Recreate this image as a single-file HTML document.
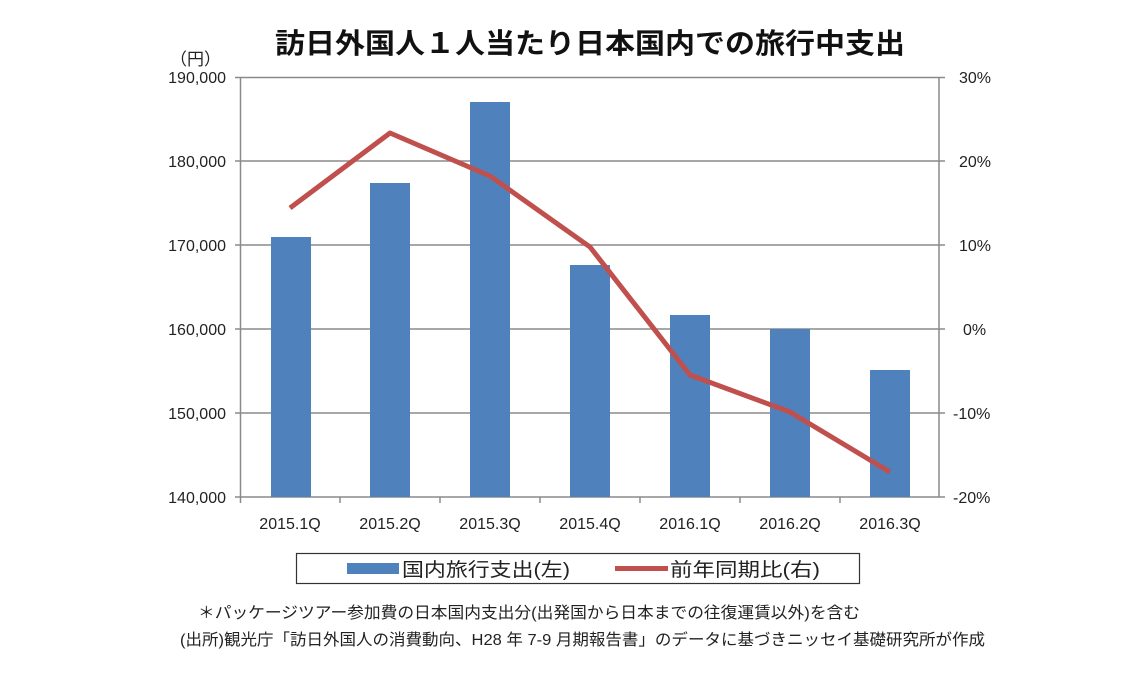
<!DOCTYPE html>
<html><head><meta charset="utf-8"><style>
body{margin:0;background:#fff;width:1143px;height:680px;overflow:hidden}
svg text{font-family:"Liberation Sans","Noto Sans CJK JP",sans-serif}
</style></head><body>
<svg width="1143" height="680" viewBox="0 0 1143 680">
<text x="275" y="53" font-size="28" font-weight="bold" fill="#111" textLength="630" lengthAdjust="spacingAndGlyphs">訪日外国人１人当たり日本国内での旅行中支出</text>
<text x="170" y="65" font-size="17" fill="#222">（円）</text>
<g stroke="#8a8a8a" stroke-width="1.5">
<line x1="235" y1="77.5" x2="939" y2="77.5"/>
<line x1="235" y1="161" x2="939" y2="161"/>
<line x1="235" y1="245" x2="939" y2="245"/>
<line x1="235" y1="329" x2="939" y2="329"/>
<line x1="235" y1="413" x2="939" y2="413"/>
<line x1="235" y1="497" x2="945" y2="497"/>
<line x1="240.5" y1="77" x2="240.5" y2="497"/>
<line x1="939" y1="77" x2="939" y2="497"/>
<line x1="939" y1="77.5" x2="945" y2="77.5"/><line x1="939" y1="161" x2="945" y2="161"/><line x1="939" y1="245" x2="945" y2="245"/><line x1="939" y1="329" x2="945" y2="329"/><line x1="939" y1="413" x2="945" y2="413"/>
<line x1="240.5" y1="497" x2="240.5" y2="503"/><line x1="340" y1="497" x2="340" y2="503"/><line x1="440" y1="497" x2="440" y2="503"/><line x1="540" y1="497" x2="540" y2="503"/><line x1="640" y1="497" x2="640" y2="503"/><line x1="740" y1="497" x2="740" y2="503"/><line x1="840" y1="497" x2="840" y2="503"/>
</g>
<g font-size="16" fill="#222" text-anchor="end">
<text x="226" y="83">190,000</text><text x="226" y="167">180,000</text><text x="226" y="251">170,000</text><text x="226" y="335">160,000</text><text x="226" y="419">150,000</text><text x="226" y="503">140,000</text>
</g>
<g font-size="16" fill="#222">
<text x="959" y="83">30%</text><text x="959" y="167">20%</text><text x="959" y="251">10%</text><text x="963" y="335">0%</text><text x="953" y="419">-10%</text><text x="953" y="503">-20%</text>
</g>
<g fill="#4f81bd">
<rect x="271" y="237" width="40" height="260"/>
<rect x="370" y="183" width="40" height="314"/>
<rect x="470" y="102" width="40" height="395"/>
<rect x="570" y="265" width="40" height="232"/>
<rect x="670" y="315" width="40" height="182"/>
<rect x="770" y="329" width="40" height="168"/>
<rect x="870" y="370" width="40" height="127"/>
</g>
<polyline fill="none" stroke="#c0504d" stroke-width="5" stroke-linejoin="round" points="290,208 390,133 490,176 590,247 690,375 790,412 890,472"/>
<g font-size="16" fill="#222" text-anchor="middle">
<text x="290" y="529">2015.1Q</text><text x="390" y="529">2015.2Q</text><text x="490" y="529">2015.3Q</text><text x="590" y="529">2015.4Q</text><text x="690" y="529">2016.1Q</text><text x="790" y="529">2016.2Q</text><text x="890" y="529">2016.3Q</text>
</g>
<rect x="296.5" y="553.5" width="563" height="30" fill="none" stroke="#333" stroke-width="1.2"/>
<rect x="347" y="563" width="52" height="11" fill="#4f81bd"/>
<text x="402" y="576" font-size="19" fill="#222" textLength="168" lengthAdjust="spacingAndGlyphs">国内旅行支出(左)</text>
<line x1="615" y1="568.5" x2="668" y2="568.5" stroke="#c0504d" stroke-width="5"/>
<text x="670" y="576" font-size="19" fill="#222" textLength="150" lengthAdjust="spacingAndGlyphs">前年同期比(右)</text>
<text x="198" y="618" font-size="16" fill="#222" textLength="662" lengthAdjust="spacingAndGlyphs">＊パッケージツアー参加費の日本国内支出分(出発国から日本までの往復運賃以外)を含む</text>
<text x="180" y="645" font-size="16" fill="#222" textLength="805" lengthAdjust="spacingAndGlyphs">(出所)観光庁「訪日外国人の消費動向、H28 年 7-9 月期報告書」のデータに基づきニッセイ基礎研究所が作成</text>
</svg>
</body></html>
